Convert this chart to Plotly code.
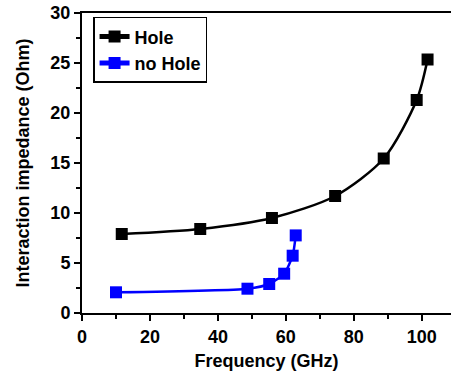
import plotly.graph_objects as go

hole_x = [11.7, 34.8, 55.9, 74.5, 88.8, 98.5, 101.7]
hole_y = [7.9, 8.4, 9.5, 11.7, 15.45, 21.3, 25.35]
nohole_x = [10.0, 48.7, 55.1, 59.5, 62.0, 62.9]
nohole_y = [2.07, 2.43, 2.9, 3.93, 5.73, 7.76]
x_ticks = [0, 20, 40, 60, 80, 100]
y_ticks = [0, 5, 10, 15, 20, 25, 30]

font_family = "Arial, Liberation Sans, sans-serif"

fig = go.Figure()
fig.add_trace(go.Scatter(
    x=hole_x, y=hole_y, name="<b>Hole</b>", mode="lines+markers",
    line=dict(color="black", width=2.5, shape="spline", smoothing=0.8),
    marker=dict(symbol="square", size=12, color="black"),
))
fig.add_trace(go.Scatter(
    x=nohole_x, y=nohole_y, name="<b>no Hole</b>", mode="lines+markers",
    line=dict(color="#0000FF", width=2.5, shape="spline", smoothing=0.6),
    marker=dict(symbol="square", size=12, color="#0000FF"),
))

axis_common = dict(
    showline=True, linecolor="black", linewidth=2,
    ticks="outside", ticklen=6, tickwidth=2, tickcolor="black",
    showgrid=False, zeroline=False,
    tickfont=dict(family=font_family, size=18, color="black", weight="bold"),
)

fig.update_xaxes(
    range=[0, 108.6], mirror=True,
    tickmode="array", tickvals=x_ticks, ticktext=[f"<b>{v}</b>" for v in x_ticks],
    minor=dict(dtick=10, tick0=0, ticks="outside", ticklen=4, tickwidth=2, tickcolor="black"),
    title=dict(text="<b>Frequency (GHz)</b>", standoff=9,
               font=dict(family=font_family, size=18, color="black")),
    **axis_common,
)
fig.update_yaxes(
    range=[0, 30],
    tickmode="array", tickvals=y_ticks, ticktext=[f"<b>{v}</b>" for v in y_ticks],
    minor=dict(dtick=2.5, tick0=0, ticks="outside", ticklen=4, tickwidth=2, tickcolor="black"),
    title=dict(text="<b>Interaction impedance (Ohm)</b>", standoff=16,
               font=dict(family=font_family, size=18, color="black")),
    **axis_common,
)

fig.update_layout(
    width=452, height=376,
    margin=dict(l=82, r=1, t=13, b=63),
    paper_bgcolor="white", plot_bgcolor="white",
    showlegend=True,
    legend=dict(
        x=0.03, y=0.987, xanchor="left", yanchor="top",
        bgcolor="white", bordercolor="black", borderwidth=1.5,
        font=dict(family=font_family, size=18, color="black"),
        tracegroupgap=0, itemsizing="constant",
    ),
)

fig.write_html("out.html")
